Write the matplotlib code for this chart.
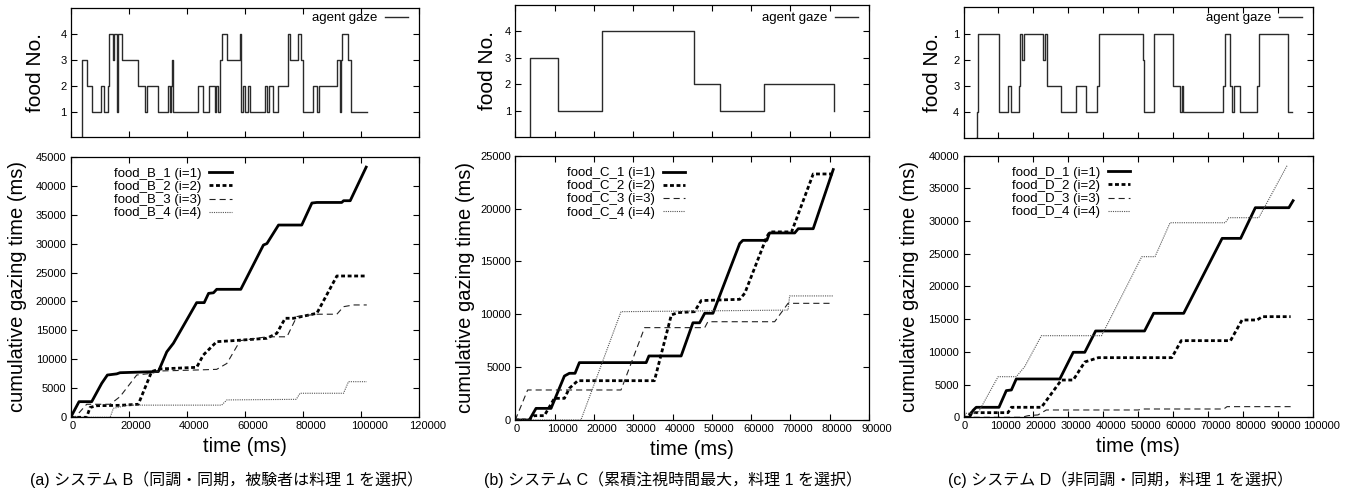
import matplotlib
matplotlib.use("Agg")
import matplotlib.pyplot as plt
from matplotlib.transforms import ScaledTranslation

plt.rcParams['font.family'] = ['Liberation Sans', 'Noto Sans CJK JP']

# ---- agent gaze (top panels): change times (ms) and food No. after each change ----
a_gaze_t = [3893, 3900, 5510, 7230, 10330, 11470, 12740, 13300, 14470, 14900, 15850, 16400,
            17780, 23290, 25600, 26390, 30180, 33620, 34300, 34700, 35000, 35350, 43750,
            45680, 47640, 49710, 50200, 50700, 51430, 52230, 53740, 58320, 58550, 59460,
            60040, 61180, 61770, 66935, 67730, 68420, 69590, 71520, 74760, 75550, 78410,
            79230, 79920, 83370, 85000, 85540, 91640, 92800, 93000, 93360, 95630, 96460,
            101970]
a_gaze_v = [0, 3, 2, 1, 2, 1, 2, 4, 3, 4, 1, 4,
            3, 2, 1, 2, 1, 2, 1, 2, 3, 1, 2,
            1, 2, 1, 2, 1, 3, 4, 3, 4, 1, 2,
            1, 2, 1, 2, 1, 2, 1, 2, 4, 3, 4,
            3, 1, 2, 1, 2, 3, 1, 3, 4, 3, 1,
            1]

b_gaze_t = [3820, 3830, 10960, 22000, 45400, 52200, 63200, 81050]
b_gaze_v = [0, 3, 1, 4, 2, 1, 2, 1]

c_gaze_t = [3620, 3810, 4100, 4290, 10290, 12860, 13620, 15900, 16190, 16860, 17330,
            22670, 23330, 23810, 27810, 32100, 34950, 38290, 38860, 51430, 51710, 54570,
            59810, 61900, 62380, 62860, 74290, 74950, 76190, 76950, 77330, 79050, 84100,
            84570, 92860, 94000]
c_gaze_v = [5, 4, 3, 1, 4, 3, 4, 3, 1, 2, 1,
            2, 1, 3, 4, 3, 4, 3, 1, 2, 4, 1,
            3, 4, 3, 4, 3, 1, 3, 4, 3, 4, 3,
            1, 4, 4]

# ---- cumulative gazing time (bottom panels) ----
B1_t = [0, 2870, 7240, 10690, 12640, 15860, 17000, 30200, 33100, 35400, 43400, 46000, 47500,
        49200, 50300, 58600, 66400, 67600, 71600, 79600, 83100, 84800, 93400, 94000, 96300, 101800]
B1_v = [0, 2700, 2700, 5870, 7300, 7500, 7700, 7900, 11300, 12800, 19800, 19800, 21400,
        21500, 22100, 22100, 29750, 30000, 33200, 33200, 37000, 37100, 37100, 37400, 37400, 43200]
B2_t = [0, 5500, 6660, 9000, 17000, 23300, 27900, 30800, 43400, 45700, 50300, 56100, 67600,
        71000, 73900, 76800, 79600, 84800, 91700, 102000]
B2_v = [0, 0, 1700, 2000, 2070, 2250, 7900, 8350, 8630, 10760, 13060, 13240, 13640,
        14500, 17100, 17100, 17400, 17960, 24400, 24400]
B3_t = [0, 1500, 5500, 13600, 17000, 22750, 27900, 30800, 43400, 50300, 53800, 58400, 67600,
        74500, 77900, 84800, 91700, 94000, 97400, 102000]
B3_v = [0, 0, 2250, 2250, 3570, 7300, 7600, 8000, 8170, 8280, 9300, 13240, 13900,
        13900, 17400, 17800, 17800, 19100, 19400, 19400]
B4_t = [0, 13600, 14700, 19900, 52000, 53800, 77700, 79000, 94000, 95700, 102000]
B4_v = [0, 0, 1550, 2100, 2100, 3000, 3100, 4150, 4150, 6150, 6150]

C1_t = [0, 3570, 5270, 9090, 12490, 13760, 15200, 16300, 33300, 34000, 42200, 45200, 46900,
        48200, 50300, 57100, 57900, 64000, 64700, 71100, 72000, 75800, 80900]
C1_v = [0, 0, 1100, 1100, 4160, 4420, 4420, 5430, 5430, 6060, 6060, 9200, 9200,
        10100, 10100, 16700, 17000, 17000, 17700, 17700, 18100, 18100, 23700]
C2_t = [0, 3570, 4840, 7390, 9940, 12490, 13760, 15900, 35400, 39700, 41400, 45600, 47300,
        57100, 58400, 64000, 64800, 70300, 75800, 80900]
C2_v = [0, 0, 410, 410, 2050, 2050, 3000, 3720, 3720, 9940, 10160, 10250, 11300,
        11420, 12000, 17350, 17800, 17800, 23280, 23280]
C3_t = [0, 3140, 26900, 32900, 48200, 49000, 66000, 69400, 80900]
C3_v = [0, 2840, 2840, 8740, 8740, 9300, 9300, 11040, 11040]
C4_t = [0, 16700, 26900, 69400, 69800, 80900]
C4_v = [0, 0, 10250, 10400, 11740, 11740]

D1_t = [0, 1720, 2680, 3640, 10150, 12250, 13700, 15100, 27560, 31400, 34700, 37800, 51800,
        54400, 63000, 74000, 79300, 83500, 93100, 94300]
D1_v = [0, 0, 1020, 1530, 1530, 4080, 4180, 5860, 5860, 9940, 9940, 13200, 13200,
        15900, 15900, 27360, 27360, 32050, 32050, 33120]
D2_t = [0, 1240, 2200, 12730, 13700, 22300, 28000, 31400, 34700, 38600, 59600, 62300, 76400,
        79700, 84000, 85500, 93600]
D2_v = [0, 0, 710, 710, 1530, 1530, 5700, 5700, 8460, 9120, 9120, 11720, 11720,
        14880, 14880, 15390, 15390]
D3_t = [0, 16600, 18500, 21300, 23700, 50000, 51200, 74500, 75400, 93600]
D3_v = [0, 0, 250, 360, 1120, 1120, 1270, 1270, 1630, 1630]
D4_t = [0, 770, 4100, 9900, 15100, 17500, 22300, 39500, 51000, 54800, 59100, 74900, 75900,
        84500, 92600]
D4_v = [0, 610, 610, 6210, 6210, 7740, 12480, 12480, 24560, 24560, 29750, 29750, 30520,
        30520, 38500]

systems = ['B', 'C', 'D']
captions = ['(a) システム B（同調・同期，被験者は料理 1 を選択）',
            '(b) システム C（累積注視時間最大，料理 1 を選択）',
            '(c) システム D（非同調・同期，料理 1 を選択）']
gaze = [(a_gaze_t, a_gaze_v), (b_gaze_t, b_gaze_v), (c_gaze_t, c_gaze_v)]
cumul = [[(B1_t, B1_v), (B2_t, B2_v), (B3_t, B3_v), (B4_t, B4_v)],
         [(C1_t, C1_v), (C2_t, C2_v), (C3_t, C3_v), (C4_t, C4_v)],
         [(D1_t, D1_v), (D2_t, D2_v), (D3_t, D3_v), (D4_t, D4_v)]]
xmax = [120000, 90000, 100000]
xstep = [20000, 10000, 10000]
ymax = [45000, 25000, 40000]

# layout in pixels
W, H = 1359, 492
px_left = [70.7, 515.3, 963.5]
px_right = [419.0, 869.0, 1313.0]
top_box = [(8.3, 137.3), (4.7, 137.3), (7.3, 138.3)]
bot_box = [(156.7, 417.3), (155.8, 420.0), (155.7, 417.3)]
ylab_top = [-0.074, -0.053, -0.062]
ylab_bot = [-0.126, -0.114, -0.126]
top_leg_y = [0.97, 0.944, 0.963]
bot_leg_x = [0.124, 0.146, 0.138]
cap_x = [226, 673, 1120]

# line styles for food 1..4
styles = [dict(color='black', lw=2.0, ls='-'),
          dict(color='black', lw=2.0, dashes=(1.4, 0.95)),
          dict(color='#222222', lw=0.8, dashes=(5.5, 3.6)),
          dict(color='#555555', lw=0.8, dashes=(1.0, 1.0))]

fig = plt.figure(figsize=(W / 100, H / 100), dpi=100)


def style_axes(ax):
    ax.tick_params(direction='in', top=True, right=True, length=4, width=0.8,
                   labelsize=8, pad=3)
    for s in ax.spines.values():
        s.set_linewidth(0.9)


for k in range(3):
    l, r = px_left[k], px_right[k]
    # upper axes: agent gaze
    t0, t1 = top_box[k]
    ax1 = fig.add_axes([l / W, 1 - t1 / H, (r - l) / W, (t1 - t0) / H])
    gt, gv = gaze[k]
    ax1.plot(gt, gv, drawstyle='steps-post', color='#2a2a2a', lw=1.0, label='agent gaze')
    ax1.set_xlim(0, xmax[k])
    ax1.set_xticks(range(0, xmax[k] + 1, xstep[k]))
    ax1.set_xticklabels([])
    ax1.set_yticks([1, 2, 3, 4])
    if k == 2:
        ax1.set_ylim(5, 0)
    else:
        ax1.set_ylim(0, 5)
    ax1.set_ylabel('food No.', fontsize=15)
    ax1.yaxis.set_label_coords(ylab_top[k], 0.5)
    style_axes(ax1)
    ax1.legend(loc='upper right', bbox_to_anchor=(0.968, top_leg_y[k]), frameon=False,
               markerfirst=False, fontsize=9.5, handlelength=1.7, handletextpad=0.6,
               borderpad=0, borderaxespad=0)

    # lower axes: cumulative gazing time
    b0, b1 = bot_box[k]
    ax2 = fig.add_axes([l / W, 1 - b1 / H, (r - l) / W, (b1 - b0) / H])
    for i, (ct, cv) in enumerate(cumul[k]):
        ax2.plot(ct, cv, label=f'food_{systems[k]}_{i + 1} (i={i + 1})', **styles[i])
    ax2.set_xlim(0, xmax[k])
    ax2.set_ylim(0, ymax[k])
    xt = list(range(0, xmax[k] + 1, xstep[k]))
    ax2.set_xticks(xt)
    ax2.set_yticks(range(0, ymax[k] + 1, 5000))
    ax2.set_xlabel('time (ms)', fontsize=14.5, labelpad=4)
    ax2.set_ylabel('cumulative gazing time (ms)', fontsize=14.5)
    ax2.yaxis.set_label_coords(ylab_bot[k], 0.5)
    style_axes(ax2)
    # gnuplot-like tick labels sit a little to the right of their ticks
    for v, lab in zip(xt, ax2.get_xticklabels()):
        dx = 1.5 * len(str(v)) / 100
        lab.set_transform(lab.get_transform() + ScaledTranslation(dx, 0, fig.dpi_scale_trans))
    ax2.legend(loc='upper left', bbox_to_anchor=(bot_leg_x[k], 0.958), frameon=False,
               markerfirst=False, fontsize=9.5, handlelength=1.7, handletextpad=0.6,
               labelspacing=0.07, borderpad=0, borderaxespad=0)

    fig.text(cap_x[k] / W, 1 - 480 / H, captions[k], ha='center', va='center', fontsize=11.5)

plt.savefig('out.png', dpi=100)
plt.close()
